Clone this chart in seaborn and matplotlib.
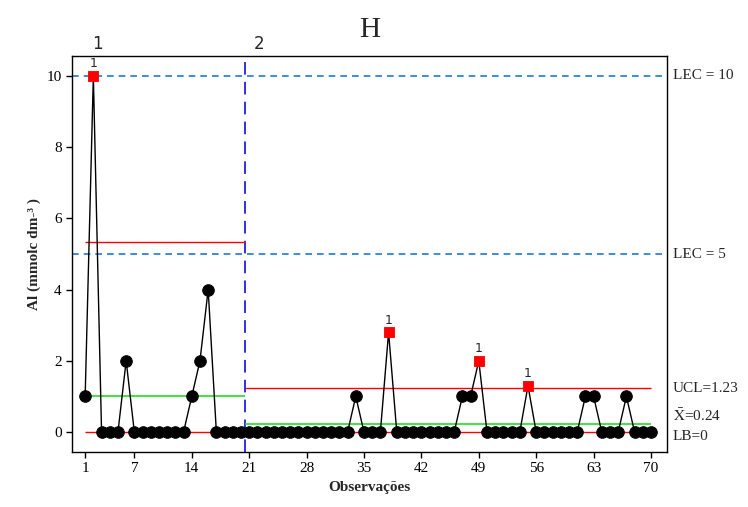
import numpy as np
import pandas as pd
import matplotlib
matplotlib.use("Agg")
import matplotlib.pyplot as plt
import seaborn as sns

# ---- data ----
obs = list(range(1, 71))
values = [1, 10, 0, 0, 0, 2, 0, 0, 0, 0, 0, 0, 0, 1, 2, 4, 0, 0, 0, 0,
          0, 0, 0, 0, 0, 0, 0, 0, 0, 0, 0, 0, 0, 1, 0, 0, 0, 2.8, 0, 0,
          0, 0, 0, 0, 0, 0, 1, 1, 2, 0, 0, 0, 0, 0, 1.3, 0, 0, 0, 0, 0,
          0, 1, 1, 0, 0, 0, 1, 0, 0, 0]
phase_start = [1, 21]
phase_end = [20, 70]
phase_labels = ["1", "2"]
ucl = [5.33, 1.23]
center = [1.0, 0.24]
lcl = [0, 0]
lec = [10, 5]
xticks = [1, 7, 14, 21, 28, 35, 42, 49, 56, 63, 70]
yticks = [0, 2, 4, 6, 8, 10]

df = pd.DataFrame({"obs": obs, "val": values})
phase = np.where(df["obs"] <= phase_end[0], 0, 1)
df["out"] = [v > ucl[p] for v, p in zip(df["val"], phase)]

sns.set_style("white")
plt.rcParams["font.family"] = ["Liberation Serif", "DejaVu Serif"]
plt.rcParams["mathtext.fontset"] = "stix"

fig = plt.figure(figsize=(7.48, 5.07), dpi=100)
ax = fig.add_axes([0.0963, 0.1085, 0.7954, 0.781])

# reference lines
for v in lec:
    ax.axhline(v, color="#1f78d8", ls=(0, (4, 3)), lw=1.2, zorder=1)
ax.axvline(20.5, color="#2020e0", ls=(0, (7, 4)), lw=1.3, zorder=1)
bounds = [(phase_start[0], 20.5), (20.5, phase_end[1])]
for i, (a, b) in enumerate(bounds):
    ax.hlines(ucl[i], a, b, color="red", lw=1.0, zorder=2)
    ax.hlines(center[i], a, b, color="#22dd22", lw=1.2, zorder=2)
ax.hlines(lcl[0], phase_start[0], phase_end[1], color="red", lw=1.0, zorder=2)

# series
sns.lineplot(data=df, x="obs", y="val", color="black", lw=1.0, ax=ax, zorder=3)
sns.scatterplot(data=df[~df["out"]], x="obs", y="val", color="black", s=70,
                marker="o", edgecolor="black", ax=ax, zorder=4)
sns.scatterplot(data=df[df["out"]], x="obs", y="val", color="red", s=60,
                marker="s", edgecolor="red", ax=ax, zorder=4)
for _, r in df[df["out"]].iterrows():
    ax.annotate("1", (r["obs"], r["val"]), xytext=(0, 4), textcoords="offset points",
                ha="center", va="bottom", fontsize=9, family="DejaVu Sans")

ax.set_xlim(-0.6, 71.95)
ax.set_ylim(-0.56, 10.56)
ax.set_xticks(xticks)
ax.set_yticks(yticks)
ax.tick_params(axis="both", direction="out", length=4, width=1, labelsize=11,
               bottom=True, left=True, colors="black")
for s in ax.spines.values():
    s.set_color("black")
    s.set_linewidth(1.0)

ax.set_xlabel("Observações", fontsize=11, fontweight="bold")
ax.set_ylabel("Al (mmolc dm-³ )", fontsize=11, fontweight="bold")
ax.set_title("H", fontsize=21, pad=14)

# phase labels
for lab, xs in zip(phase_labels, [2.5, 22.2]):
    ax.text(xs, 1.008, lab, transform=ax.get_xaxis_transform(), ha="center",
            va="bottom", fontsize=12, family="DejaVu Sans")

# right-side labels
tr = ax.get_yaxis_transform()
ax.text(1.01, lec[0], "LEC = 10", transform=tr, va="center", fontsize=11)
ax.text(1.01, lec[1], "LEC = 5", transform=tr, va="center", fontsize=11)
ax.text(1.01, ucl[1], "UCL=1.23", transform=tr, va="center", fontsize=11)
ax.text(1.01, center[1] + 0.22, r"$\bar{\mathrm{X}}$=0.24", transform=tr, va="center", fontsize=11)
ax.text(1.01, lcl[1] - 0.12, "LB=0", transform=tr, va="center", fontsize=11)

fig.savefig("out.png", dpi=100)
